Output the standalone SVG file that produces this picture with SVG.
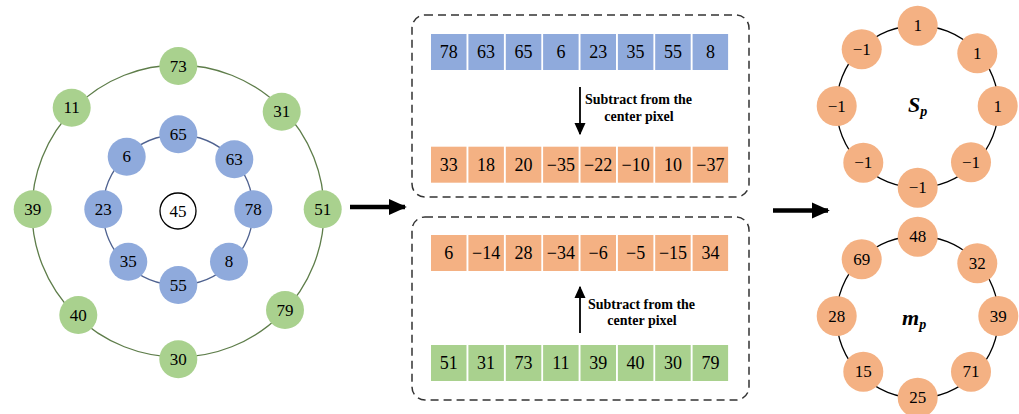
<svg xmlns="http://www.w3.org/2000/svg" width="1019" height="414" viewBox="0 0 1019 414" font-family="'Liberation Serif','Times New Roman','DejaVu Serif',serif">
<defs>
<style>
text{font-family:'Liberation Serif','Times New Roman','DejaVu Serif',serif;fill:#000}
.n{font-size:17px;text-anchor:middle;dominant-baseline:central}
.c{font-size:18px;text-anchor:middle;dominant-baseline:central}
.g{fill:#A9D18E}
.b{fill:#8FAADC}
.o{fill:#F4B183}
.lbl{font-size:14px;font-weight:bold}
.box{fill:none;stroke:#333;stroke-width:1.5;stroke-dasharray:8 5}
.big{stroke:#000;stroke-width:4.5;fill:none}
.thin{stroke:#000;stroke-width:1.8;fill:none}
</style>
<marker id="ah" viewBox="0 0 10 10" refX="9" refY="5" markerWidth="4" markerHeight="4" orient="auto" markerUnits="strokeWidth"><path d="M0,0.5 L10,5 L0,9.5 Z" fill="#000"/></marker>
<marker id="as" viewBox="0 0 10 10" refX="9" refY="5" markerWidth="7" markerHeight="7" orient="auto" markerUnits="strokeWidth"><path d="M0,0.5 L10,5 L0,9.5 Z" fill="#000"/></marker>
</defs>

<g id="connectors">
<circle cx="178" cy="211" r="146" fill="none" stroke="#5E7D4A" stroke-width="1.3"/>
<circle cx="178" cy="210" r="75" fill="none" stroke="#4F6290" stroke-width="1.3"/>
<circle cx="917.5" cy="106.5" r="81" fill="none" stroke="#000" stroke-width="1.3"/>
<circle cx="917.5" cy="317" r="81" fill="none" stroke="#000" stroke-width="1.3"/>
<line class="big" x1="350" y1="207" x2="405" y2="207" marker-end="url(#ah)"/>
<line class="big" x1="773" y1="210.5" x2="828" y2="210.5" marker-end="url(#ah)"/>
<line class="thin" x1="580" y1="87" x2="580" y2="134" marker-end="url(#as)"/>
<line class="thin" x1="580" y1="333" x2="580" y2="287" marker-end="url(#as)"/>
</g>

<g id="center"><circle cx="178" cy="211" r="18" fill="#fff" stroke="#000" stroke-width="1.3"/><text class="n" x="178" y="211">45</text></g>

<g id="outer-ring">
<g id="o73"><circle class="g" cx="178.3" cy="66" r="19"/><text class="n" x="178.3" y="66">73</text></g>
<g id="o31"><circle class="g" cx="281.7" cy="111.7" r="19"/><text class="n" x="281.7" y="111.7">31</text></g>
<g id="o51"><circle class="g" cx="322.7" cy="209.3" r="19"/><text class="n" x="322.7" y="209.3">51</text></g>
<g id="o79"><circle class="g" cx="285" cy="310" r="19"/><text class="n" x="285" y="310">79</text></g>
<g id="o30"><circle class="g" cx="178.3" cy="359.3" r="19"/><text class="n" x="178.3" y="359.3">30</text></g>
<g id="o40"><circle class="g" cx="78.3" cy="315" r="19"/><text class="n" x="78.3" y="315">40</text></g>
<g id="o39"><circle class="g" cx="32.7" cy="209.3" r="19"/><text class="n" x="32.7" y="209.3">39</text></g>
<g id="o11"><circle class="g" cx="71.7" cy="107.7" r="19"/><text class="n" x="71.7" y="107.7">11</text></g>
</g>

<g id="inner-ring">
<g id="i65"><circle class="b" cx="178.3" cy="134.3" r="19"/><text class="n" x="178.3" y="134.3">65</text></g>
<g id="i63"><circle class="b" cx="234.3" cy="159.3" r="19"/><text class="n" x="234.3" y="159.3">63</text></g>
<g id="i78"><circle class="b" cx="253.3" cy="209.3" r="19"/><text class="n" x="253.3" y="209.3">78</text></g>
<g id="i8"><circle class="b" cx="229" cy="261.7" r="19"/><text class="n" x="229" y="261.7">8</text></g>
<g id="i55"><circle class="b" cx="178.3" cy="285" r="19"/><text class="n" x="178.3" y="285">55</text></g>
<g id="i35"><circle class="b" cx="128.3" cy="261.7" r="19"/><text class="n" x="128.3" y="261.7">35</text></g>
<g id="i23"><circle class="b" cx="103.3" cy="209.3" r="19"/><text class="n" x="103.3" y="209.3">23</text></g>
<g id="i6"><circle class="b" cx="126.7" cy="156.7" r="19"/><text class="n" x="126.7" y="156.7">6</text></g>
</g>

<g id="top-box">
<rect class="box" x="412" y="15" width="337" height="182" rx="13"/>
<g id="row-blue">
<rect class="b" x="431" y="34" width="35.5" height="36"/><text class="c" x="448.7" y="52">78</text>
<rect class="b" x="468.4" y="34" width="35.5" height="36"/><text class="c" x="486.1" y="52">63</text>
<rect class="b" x="505.8" y="34" width="35.5" height="36"/><text class="c" x="523.5" y="52">65</text>
<rect class="b" x="543.1" y="34" width="35.5" height="36"/><text class="c" x="560.9" y="52">6</text>
<rect class="b" x="580.5" y="34" width="35.5" height="36"/><text class="c" x="598.2" y="52">23</text>
<rect class="b" x="617.9" y="34" width="35.5" height="36"/><text class="c" x="635.6" y="52">35</text>
<rect class="b" x="655.2" y="34" width="35.5" height="36"/><text class="c" x="673" y="52">55</text>
<rect class="b" x="692.6" y="34" width="35.5" height="36"/><text class="c" x="710.4" y="52">8</text>
</g>
<text class="lbl" x="585" y="104">Subtract from the</text>
<text class="lbl" x="639" y="121" text-anchor="middle">center pixel</text>
<g id="row-diff1">
<rect class="o" x="431" y="146.7" width="35.5" height="36"/><text class="c" x="448.7" y="164.7">33</text>
<rect class="o" x="468.4" y="146.7" width="35.5" height="36"/><text class="c" x="486.1" y="164.7">18</text>
<rect class="o" x="505.8" y="146.7" width="35.5" height="36"/><text class="c" x="523.5" y="164.7">20</text>
<rect class="o" x="543.1" y="146.7" width="35.5" height="36"/><text class="c" x="560.9" y="164.7">−35</text>
<rect class="o" x="580.5" y="146.7" width="35.5" height="36"/><text class="c" x="598.2" y="164.7">−22</text>
<rect class="o" x="617.9" y="146.7" width="35.5" height="36"/><text class="c" x="635.6" y="164.7">−10</text>
<rect class="o" x="655.2" y="146.7" width="35.5" height="36"/><text class="c" x="673" y="164.7">10</text>
<rect class="o" x="692.6" y="146.7" width="35.5" height="36"/><text class="c" x="710.4" y="164.7">−37</text>
</g>
</g>

<g id="bottom-box">
<rect class="box" x="412" y="217" width="337" height="183" rx="13"/>
<g id="row-diff2">
<rect class="o" x="431" y="235" width="35.5" height="36"/><text class="c" x="448.7" y="253">6</text>
<rect class="o" x="468.4" y="235" width="35.5" height="36"/><text class="c" x="486.1" y="253">−14</text>
<rect class="o" x="505.8" y="235" width="35.5" height="36"/><text class="c" x="523.5" y="253">28</text>
<rect class="o" x="543.1" y="235" width="35.5" height="36"/><text class="c" x="560.9" y="253">−34</text>
<rect class="o" x="580.5" y="235" width="35.5" height="36"/><text class="c" x="598.2" y="253">−6</text>
<rect class="o" x="617.9" y="235" width="35.5" height="36"/><text class="c" x="635.6" y="253">−5</text>
<rect class="o" x="655.2" y="235" width="35.5" height="36"/><text class="c" x="673" y="253">−15</text>
<rect class="o" x="692.6" y="235" width="35.5" height="36"/><text class="c" x="710.4" y="253">34</text>
</g>
<text class="lbl" x="588" y="308.7">Subtract from the</text>
<text class="lbl" x="642" y="325" text-anchor="middle">center pixel</text>
<g id="row-green">
<rect class="g" x="431" y="345" width="35.5" height="36"/><text class="c" x="448.7" y="363">51</text>
<rect class="g" x="468.4" y="345" width="35.5" height="36"/><text class="c" x="486.1" y="363">31</text>
<rect class="g" x="505.8" y="345" width="35.5" height="36"/><text class="c" x="523.5" y="363">73</text>
<rect class="g" x="543.1" y="345" width="35.5" height="36"/><text class="c" x="560.9" y="363">11</text>
<rect class="g" x="580.5" y="345" width="35.5" height="36"/><text class="c" x="598.2" y="363">39</text>
<rect class="g" x="617.9" y="345" width="35.5" height="36"/><text class="c" x="635.6" y="363">40</text>
<rect class="g" x="655.2" y="345" width="35.5" height="36"/><text class="c" x="673" y="363">30</text>
<rect class="g" x="692.6" y="345" width="35.5" height="36"/><text class="c" x="710.4" y="363">79</text>
</g>
</g>

<g id="sp-ring">
<g><circle class="o" cx="917.7" cy="25.7" r="20"/><text class="n" x="917.7" y="25.7">1</text></g>
<g><circle class="o" cx="977.3" cy="53.3" r="20"/><text class="n" x="977.3" y="53.3">1</text></g>
<g><circle class="o" cx="997.7" cy="106" r="20"/><text class="n" x="997.7" y="106">1</text></g>
<g><circle class="o" cx="971" cy="162.3" r="20"/><text class="n" x="971" y="162.3">−1</text></g>
<g><circle class="o" cx="917.7" cy="187.7" r="20"/><text class="n" x="917.7" y="187.7">−1</text></g>
<g><circle class="o" cx="863.3" cy="162.7" r="20"/><text class="n" x="863.3" y="162.7">−1</text></g>
<g><circle class="o" cx="836.7" cy="106" r="20"/><text class="n" x="836.7" y="106">−1</text></g>
<g><circle class="o" cx="861.7" cy="49.3" r="20"/><text class="n" x="861.7" y="49.3">−1</text></g>
<text x="908" y="112" font-size="22" font-weight="bold" font-style="italic">S<tspan font-size="14" dy="4">p</tspan></text>
</g>

<g id="mp-ring">
<g><circle class="o" cx="917.7" cy="236.7" r="20"/><text class="n" x="917.7" y="236.7">48</text></g>
<g><circle class="o" cx="977.3" cy="263.3" r="20"/><text class="n" x="977.3" y="263.3">32</text></g>
<g><circle class="o" cx="998.3" cy="316" r="20"/><text class="n" x="998.3" y="316">39</text></g>
<g><circle class="o" cx="971" cy="371.7" r="20"/><text class="n" x="971" y="371.7">71</text></g>
<g><circle class="o" cx="917.7" cy="397.7" r="20"/><text class="n" x="917.7" y="397.7">25</text></g>
<g><circle class="o" cx="863.3" cy="371.7" r="20"/><text class="n" x="863.3" y="371.7">15</text></g>
<g><circle class="o" cx="836.7" cy="316" r="20"/><text class="n" x="836.7" y="316">28</text></g>
<g><circle class="o" cx="861.7" cy="259.3" r="20"/><text class="n" x="861.7" y="259.3">69</text></g>
<text x="902" y="325" font-size="22" font-weight="bold" font-style="italic">m<tspan font-size="14" dy="4">p</tspan></text>
</g>
</svg>
